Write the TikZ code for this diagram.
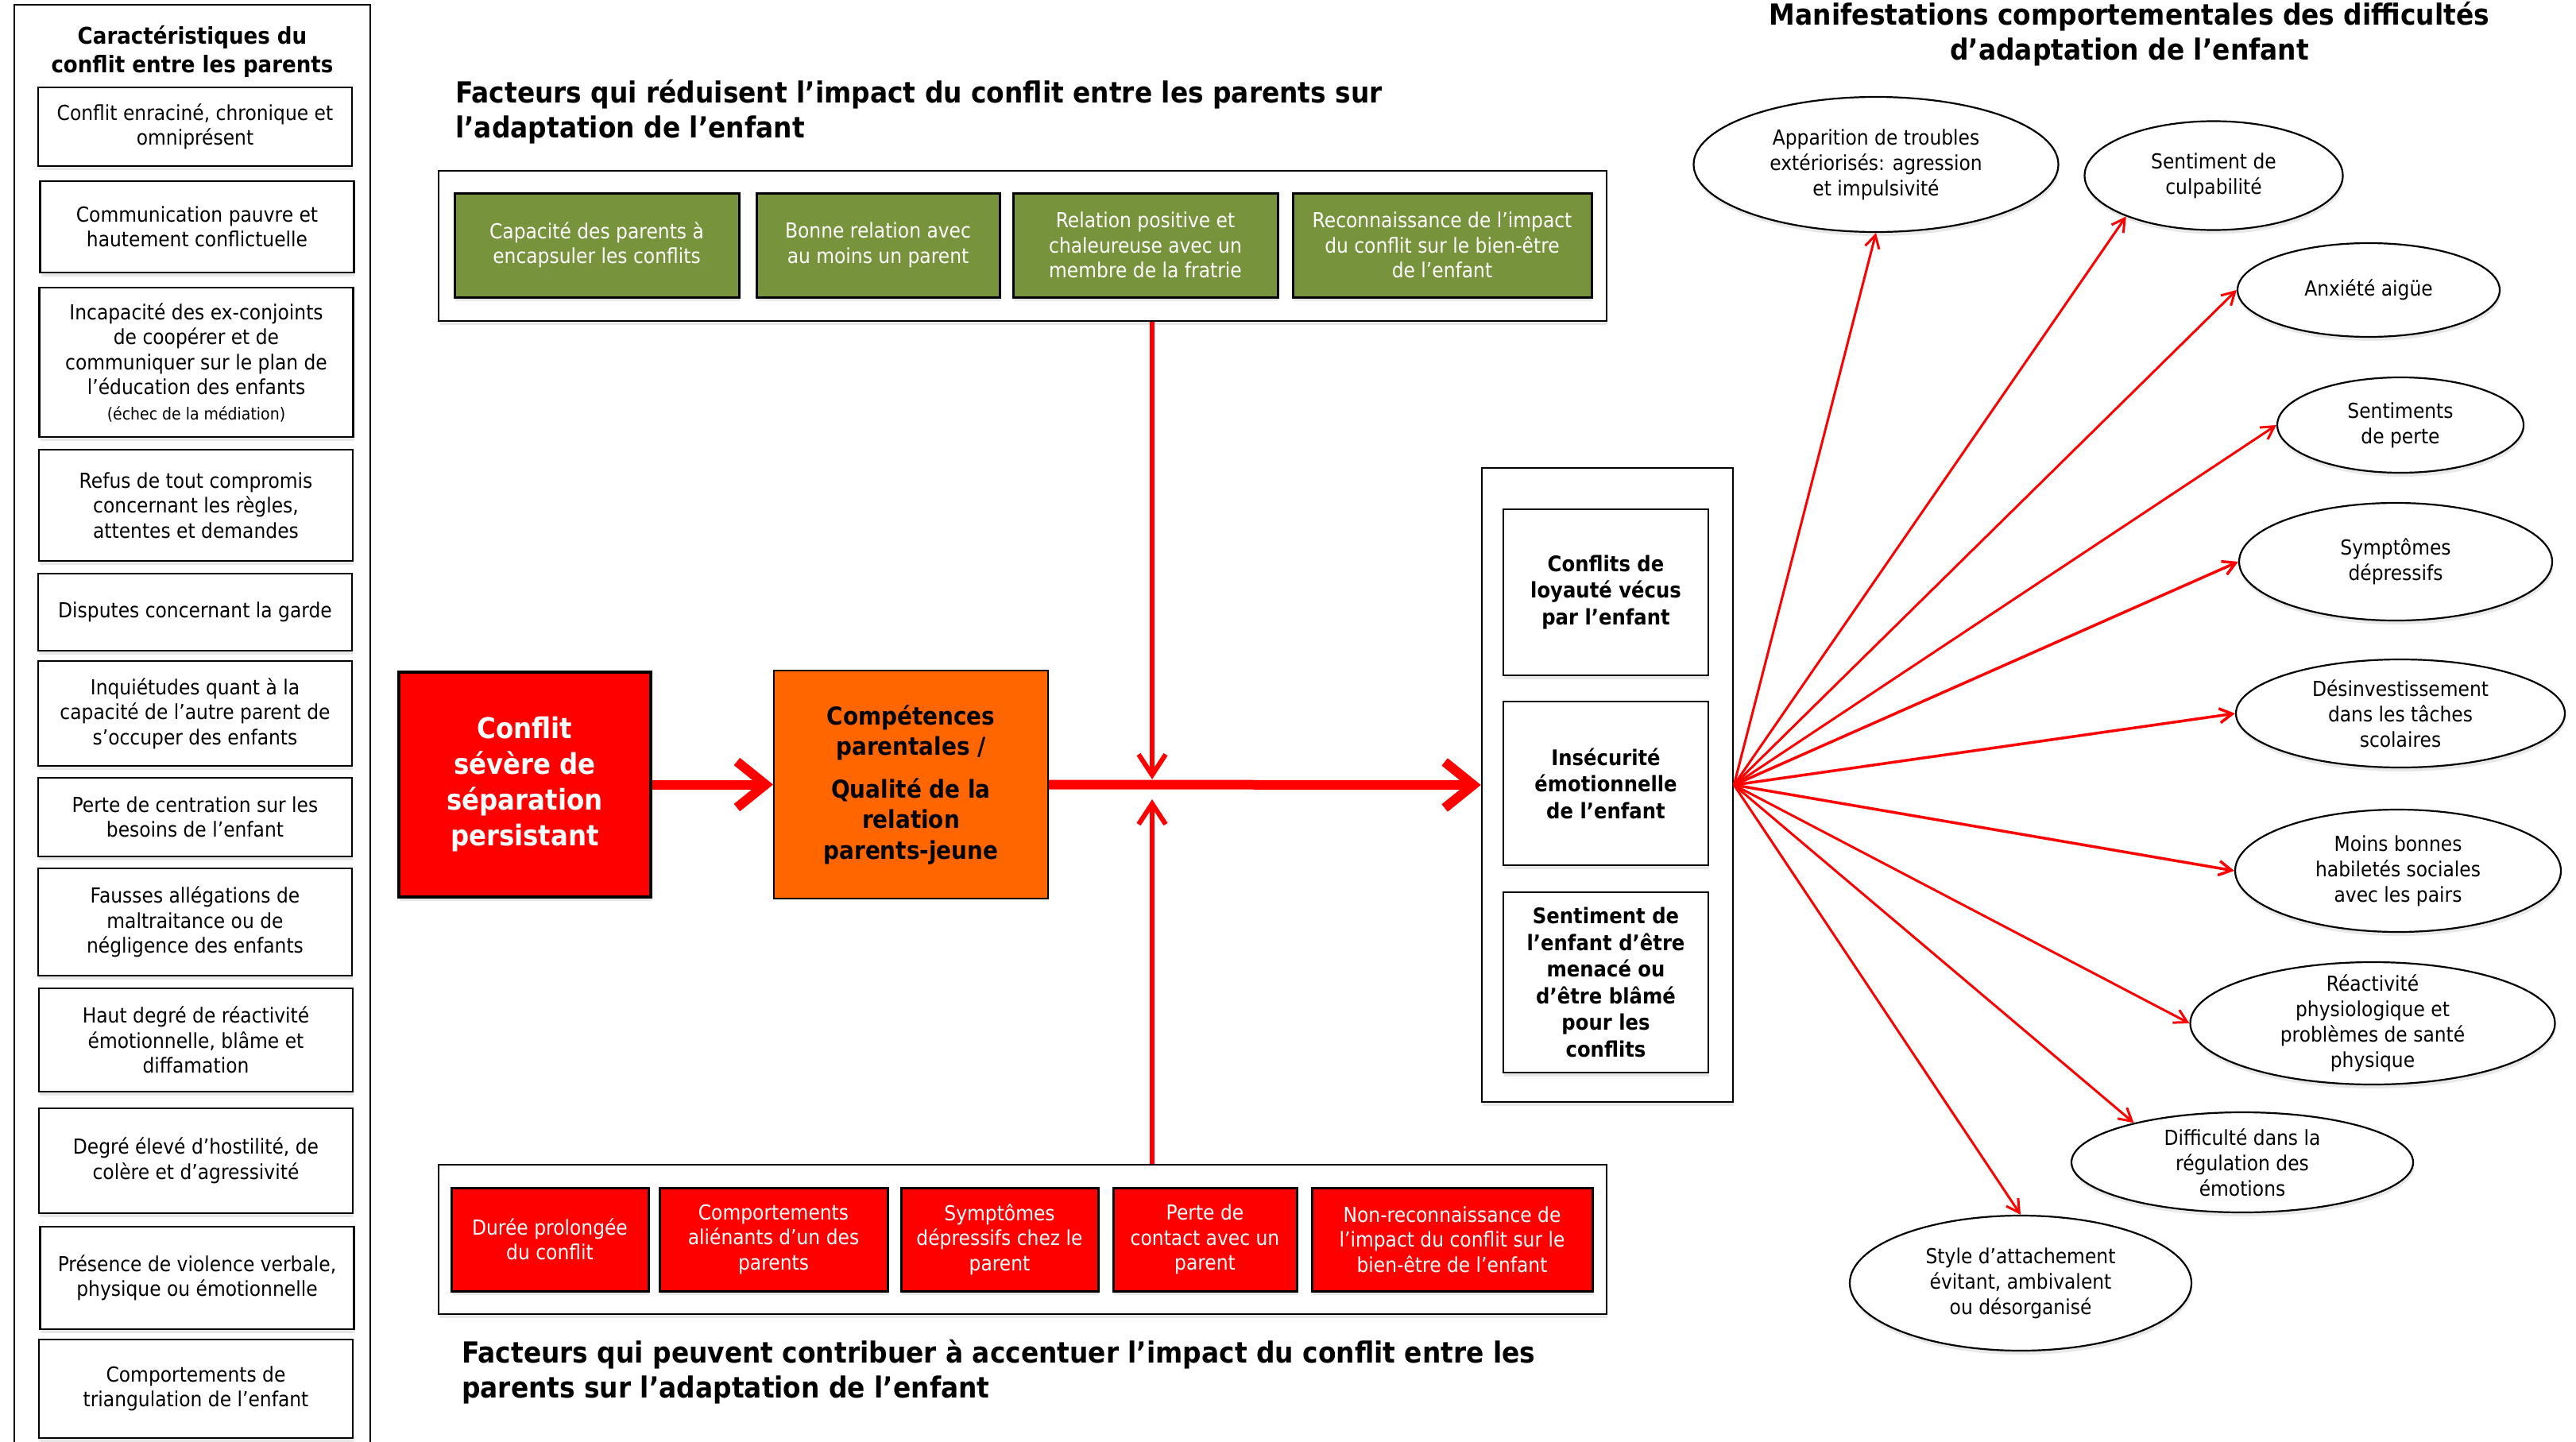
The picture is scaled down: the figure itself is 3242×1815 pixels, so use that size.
\documentclass[tikz,border=0pt]{standalone}
\usepackage{fontspec}
\setmainfont[FakeStretch=0.9]{DejaVu Sans}
\usetikzlibrary{arrows.meta,shapes.geometric,shadows}
\definecolor{ogreen}{RGB}{119,147,60}
\definecolor{oorange}{RGB}{255,102,0}
\definecolor{ored}{RGB}{255,0,0}
\begin{document}
\begin{tikzpicture}[x=1pt,y=-1pt,
  shad/.style={drop shadow={opacity=0.18,shadow xshift=1pt,shadow yshift=-5pt}},
  frame/.style={draw=black,line width=2.5pt,fill=white,shad,inner sep=0pt},
  txt/.style={font=\fontsize{26}{31.5}\selectfont,align=center},
  lbox/.style={draw=black,line width=2.5pt,fill=white,shad,txt,inner sep=2pt,minimum width=395},
  gbox/.style={draw=black,line width=3pt,fill=ogreen,text=white,shad,txt,inner sep=2pt,minimum height=131},
  rbox/.style={draw=black,line width=3pt,fill=ored,text=white,shad,txt,inner sep=2pt,minimum height=130},
  wbox/.style={draw=black,line width=2.5pt,fill=white,shad,align=center,inner sep=2pt,minimum width=258,font=\bfseries\fontsize{27}{33.5}\selectfont},
  ell/.style={ellipse,draw=black,line width=2.2pt,fill=white,shad,inner sep=0pt},
  etxt/.style={txt,font=\fontsize{26}{32}\selectfont},
  ttl/.style={font=\bfseries\fontsize{36.5}{44}\selectfont,inner sep=0pt},
  bigarrow/.style={draw=ored,line width=12pt,-{Straight Barb[length=36pt,width=58pt]}},
  midarrow/.style={draw=ored,line width=6pt,-{Straight Barb[length=26pt,width=34pt]}},
  fanarrow/.style={draw=ored,line width=3pt,-{Straight Barb[length=16pt,width=18pt]}}
]
\useasboundingbox (0,0) rectangle (3242,1815);
\clip (0,0) rectangle (3242,1815);

% ---------------- left column ----------------
\node[frame,minimum width=448,minimum height=1824] (lframe) at (242,918) {};
\node[align=center,font=\bfseries\fontsize{29}{36}\selectfont] (ltitle) at (242,65) {Caractéristiques du\\conflit entre les parents};
\node[lbox,minimum height=99] (l1) at (245.5,159.5) {Conflit enraciné, chronique et\\omniprésent};
\node[lbox,minimum height=115] (l2) at (248,285.5) {Communication pauvre et\\hautement conflictuelle};
\node[lbox,minimum height=188] (l3) at (247,456) {Incapacité des ex-conjoints\\de coopérer et de\\communiquer sur le plan de\\l’éducation des enfants\\{\fontsize{21}{26}\selectfont (échec de la médiation)}};
\node[lbox,minimum height=140] (l4) at (246.5,636) {Refus de tout compromis\\concernant les règles,\\attentes et demandes};
\node[lbox,minimum height=97] (l5) at (245.5,770.5) {Disputes concernant la garde};
\node[lbox,minimum height=132] (l6) at (245.5,898) {Inquiétudes quant à la\\capacité de l’autre parent de\\s’occuper des enfants};
\node[lbox,minimum height=99] (l7) at (245.5,1028.5) {Perte de centration sur les\\besoins de l’enfant};
\node[lbox,minimum height=135] (l8) at (245.5,1160.5) {Fausses allégations de\\maltraitance ou de\\négligence des enfants};
\node[lbox,minimum height=130] (l9) at (246.5,1309) {Haut degré de réactivité\\émotionnelle, blâme et\\diffamation};
\node[lbox,minimum height=132] (l10) at (246.5,1461) {Degré élevé d’hostilité, de\\colère et d’agressivité};
\node[lbox,minimum height=129] (l11) at (248,1608.5) {Présence de violence verbale,\\physique ou émotionnelle};
\node[lbox,minimum height=124] (l12) at (246.5,1748) {Comportements de\\triangulation de l’enfant};

% ---------------- top factors ----------------
\node[ttl,anchor=west,align=left] (ttop) at (573,141) {Facteurs qui réduisent l’impact du conflit entre les parents sur\\l’adaptation de l’enfant};
\node[frame,minimum width=1470,minimum height=189] (topbox) at (1287,309.5) {};
\node[gbox,minimum width=358] (g1) at (751,308.5) {Capacité des parents à\\encapsuler les conflits};
\node[gbox,minimum width=306] (g2) at (1105,308.5) {Bonne relation avec\\au moins un parent};
\node[gbox,minimum width=333] (g3) at (1441.5,308.5) {Relation positive et\\chaleureuse avec un\\membre de la fratrie};
\node[gbox,minimum width=376] (g4) at (1815,308.5) {Reconnaissance de l’impact\\du conflit sur le bien-être\\de l’enfant};

% ---------------- bottom factors ----------------
\node[frame,minimum width=1470,minimum height=188] (botbox) at (1287,1560) {};
\node[rbox,minimum width=248] (r1) at (692,1560) {Durée prolongée\\du conflit};
\node[rbox,minimum width=287] (r2) at (973.5,1560) {Comportements\\aliénants d’un des\\parents};
\node[rbox,minimum width=248] (r3) at (1258,1560) {Symptômes\\dépressifs chez le\\parent};
\node[rbox,minimum width=231] (r4) at (1516.5,1560) {Perte de\\contact avec un\\parent};
\node[rbox,minimum width=353] (r5) at (1827.5,1560) {Non-reconnaissance de\\l’impact du conflit sur le\\bien-être de l’enfant};
\node[ttl,anchor=west,align=left] (tbot) at (581,1727) {Facteurs qui peuvent contribuer à accentuer l’impact du conflit entre les\\parents sur l’adaptation de l’enfant};

% ---------------- centre chain ----------------
\node[draw=black,line width=4pt,fill=ored,text=white,shad,align=center,minimum width=317,minimum height=283,font=\bfseries\fontsize{36}{45}\selectfont] (conf) at (660.5,987.5) {Conflit\\sévère de\\séparation\\persistant};
\node[draw=black,line width=2pt,fill=oorange,text=black,align=center,minimum width=345,minimum height=287,font=\bfseries\fontsize{31}{38.5}\selectfont] (comp) at (1146.5,987.5) {Compétences\\parentales /\\[15pt]Qualité de la\\relation\\parents-jeune};

\node[frame,minimum width=316,minimum height=798] (rframe) at (2023,988) {};
\node[wbox,minimum height=209] (wa) at (2021,745.5) {Conflits de\\loyauté vécus\\par l’enfant};
\node[wbox,minimum height=206] (wb) at (2021,986) {Insécurité\\émotionnelle\\de l’enfant};
\node[wbox,minimum height=227] (wc) at (2021,1236.5) {Sentiment de\\l’enfant d’être\\menacé ou\\d’être blâmé\\pour les\\conflits};

\draw[bigarrow] (conf.east) -- (comp.west);
\draw[bigarrow] (comp.east) -- (rframe.west);
\coordinate (vtop) at (1450,981);
\coordinate (vbot) at (1450,1006);
\draw[midarrow] (topbox.south -| vtop) -- (vtop);
\draw[midarrow] (botbox.north -| vbot) -- (vbot);

% ---------------- right: manifestations ----------------
\node[ttl,align=center] (tright) at (2680,42.5) {Manifestations comportementales des difficultés\\d’adaptation de l’enfant};

\node[ell,minimum width=459,minimum height=170] (e1) at (2361,207) {};
\node[ell,minimum width=325,minimum height=137] (e2) at (2786,221) {};
\node[ell,minimum width=330,minimum height=118] (e3) at (2981,365) {};
\node[ell,minimum width=310,minimum height=120] (e4) at (3021,535) {};
\node[ell,minimum width=394,minimum height=148] (e5) at (3015,707) {};
\node[ell,minimum width=414,minimum height=136] (e6) at (3021,898) {};
\node[ell,minimum width=410,minimum height=154] (e7) at (3018,1096) {};
\node[ell,minimum width=459,minimum height=154] (e8) at (2986,1288) {};
\node[ell,minimum width=430,minimum height=126] (e9) at (2822,1463) {};
\node[ell,minimum width=430,minimum height=170] (e10) at (2543,1615) {};

\node[etxt] (t1) at (e1) {Apparition de troubles\\extériorisés: agression\\et impulsivité};
\node[etxt] (t2) at (e2) {Sentiment de\\culpabilité};
\node[etxt] (t3) at (e3) {Anxiété aigüe};
\node[etxt] (t4) at (e4) {Sentiments\\de perte};
\node[etxt] (t5) at (e5) {Symptômes\\dépressifs};
\node[etxt] (t6) at (e6) {Désinvestissement\\dans les tâches\\scolaires};
\node[etxt] (t7) at (e7) {Moins bonnes\\habiletés sociales\\avec les pairs};
\node[etxt] (t8) at (e8) {Réactivité\\physiologique et\\problèmes de santé\\physique};
\node[etxt] (t9) at (e9) {Difficulté dans la\\régulation des\\émotions};
\node[etxt] (t10) at (e10) {Style d’attachement\\évitant, ambivalent\\ou désorganisé};

\draw[fanarrow] (rframe.east) -- (e1.south);
\draw[fanarrow] (rframe.east) -- (e2.205);
\draw[fanarrow] (rframe.east) -- (e3.west);
\draw[fanarrow] (rframe.east) -- (e4.west);
\draw[fanarrow,line width=3.5pt] (rframe.east) -- (e5.west);
\draw[fanarrow,line width=3.5pt] (rframe.east) -- (e6.west);
\draw[fanarrow,line width=3.5pt] (rframe.east) -- (e7.west);
\draw[fanarrow] (rframe.east) -- (e8.west);
\draw[fanarrow] (rframe.east) -- (e9.160);
\draw[fanarrow] (rframe.east) -- (e10.north);
\end{tikzpicture}
\end{document}
